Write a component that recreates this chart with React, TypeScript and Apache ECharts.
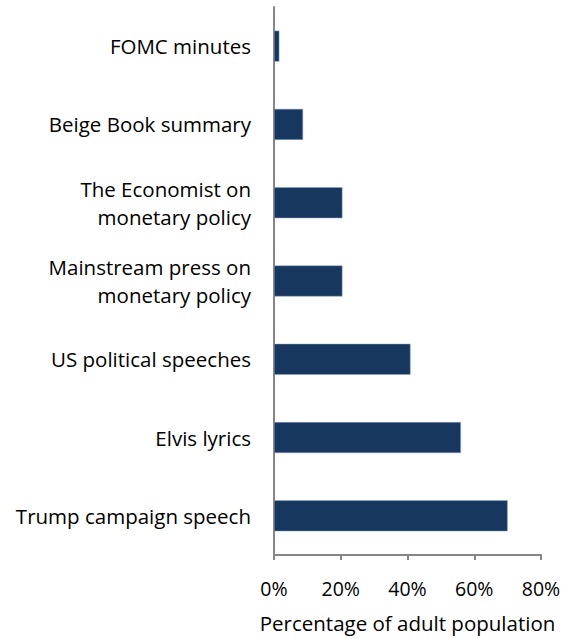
import React, { useEffect, useRef } from "react";
import * as echarts from "echarts";

const categories = [
  "FOMC minutes",
  "Beige Book summary",
  "The Economist on\nmonetary policy",
  "Mainstream press on\nmonetary policy",
  "US political speeches",
  "Elvis lyrics",
  "Trump campaign speech",
];
const values = [1.6, 8.7, 20.5, 20.5, 40.9, 56, 70];
const xTicks = [0, 20, 40, 60, 80];
const axisTitle = "Percentage of adult population";

const FONT = "'Open Sans', sans-serif";

export default function App() {
  const ref = useRef<HTMLDivElement>(null);
  useEffect(() => {
    const chart = echarts.init(ref.current!, null, { renderer: "svg" });
    chart.setOption({
      animation: false,
      grid: { left: 274, right: 30, top: 7, bottom: 84, containLabel: false },
      xAxis: {
        type: "value",
        min: xTicks[0],
        max: xTicks[xTicks.length - 1],
        interval: 20,
        name: axisTitle,
        nameLocation: "middle",
        nameGap: 57,
        nameTextStyle: { fontFamily: FONT, fontSize: 20.5, color: "#000" },
        axisLine: { show: true, lineStyle: { color: "#868686", width: 2 } },
        axisTick: { show: true, length: 5, lineStyle: { color: "#868686", width: 2 } },
        axisLabel: {
          formatter: (v: number) => v + "%",
          fontFamily: FONT,
          fontSize: 19.5,
          color: "#000",
          margin: 23,
        },
        splitLine: { show: false },
      },
      yAxis: {
        type: "category",
        data: categories,
        inverse: true,
        axisLine: { show: true, lineStyle: { color: "#868686", width: 2 } },
        axisTick: { show: false },
        axisLabel: {
          fontFamily: FONT,
          fontSize: 20.5,
          color: "#000",
          margin: 23,
          lineHeight: 28,
          align: "right",
        },
      },
      series: [
        {
          type: "bar",
          data: values,
          barWidth: 31,
          itemStyle: { color: "#17375E", borderColor: "#8DA4C4", borderWidth: 0.5 },
        },
      ],
    });
    return () => chart.dispose();
  }, []);
  return <div ref={ref} style={{ width: 571, height: 639, position: "absolute", left: 0, top: 0 }} />;
}
